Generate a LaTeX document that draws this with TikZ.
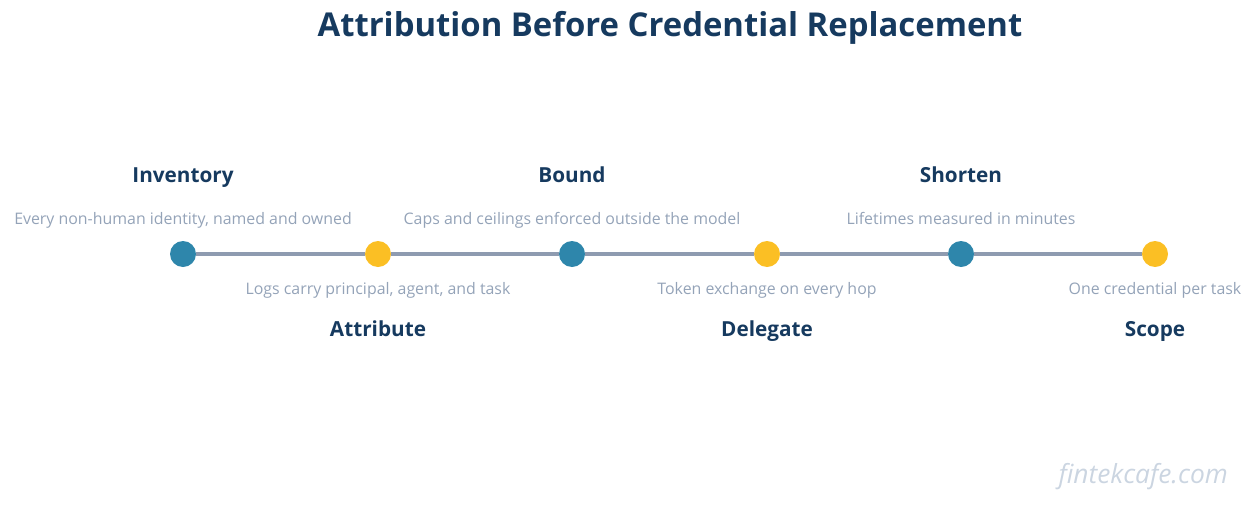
\documentclass[tikz,border=0pt]{standalone}
\usepackage{fontspec}
\setmainfont{Open Sans}
\usetikzlibrary{positioning, calc}
\definecolor{navy}{HTML}{163A5F}
\definecolor{teal}{HTML}{2E86AB}
\definecolor{amber}{HTML}{FBBF24}
\definecolor{muted}{HTML}{94A3B8}
\definecolor{track}{HTML}{8E9BB0}
\definecolor{mark}{HTML}{CBD5E1}
\tikzset{
	dot/.style={circle,minimum size=0.52cm,inner sep=0pt},
	head/.style={font=\fontsize{11.8}{14}\selectfont\bfseries,text=navy,text height=1.5ex,text depth=.3ex},
	desc/.style={font=\fontsize{9.05}{11}\selectfont,text=muted,text height=1.5ex,text depth=.3ex}
}
\begin{document}
\begin{tikzpicture}[x=0.02cm,y=-0.02cm]
	\useasboundingbox (0,0) rectangle (1256,504);
	\node [font=\fontsize{18.7}{22}\selectfont\bfseries,text=navy] (title) at (670,28) {Attribution Before Credential Replacement};
	\node [dot,fill=teal]  (inv) at (183,254) {};
	\node [dot,fill=amber] (att) at (378,254) {};
	\node [dot,fill=teal]  (bou) at (572,254) {};
	\node [dot,fill=amber] (del) at (767,254) {};
	\node [dot,fill=teal]  (sho) at (961,254) {};
	\node [dot,fill=amber] (sco) at (1155,254) {};
	\foreach \a/\b in {inv/att,att/bou,bou/del,del/sho,sho/sco}
		\draw [track,line width=2.3pt] (\a) -- (\b);
	% above the track
	\node [head] (invh) at (183,177) {Inventory};
	\node [desc] (invd) at (183,219) {Every non-human identity, named and owned};
	\node [head] (bouh) at (572,177) {Bound};
	\node [desc] (boud) at (572,219) {Caps and ceilings enforced outside the model};
	\node [head] (shoh) at (961,177) {Shorten};
	\node [desc] (shod) at (961,219) {Lifetimes measured in minutes};
	% below the track
	\node [desc] (attd) at (378,289) {Logs carry principal, agent, and task};
	\node [head] (atth) at (378,331) {Attribute};
	\node [desc] (deld) at (767,289) {Token exchange on every hop};
	\node [head] (delh) at (767,331) {Delegate};
	\node [desc] (scod) at (1155,289) {One credential per task};
	\node [head] (scoh) at (1155,331) {Scope};
	\node [font=\fontsize{15}{18}\selectfont\itshape,text=mark,anchor=east] (wm) at (1234,477) {fintekcafe.com};
\end{tikzpicture}
\end{document}
